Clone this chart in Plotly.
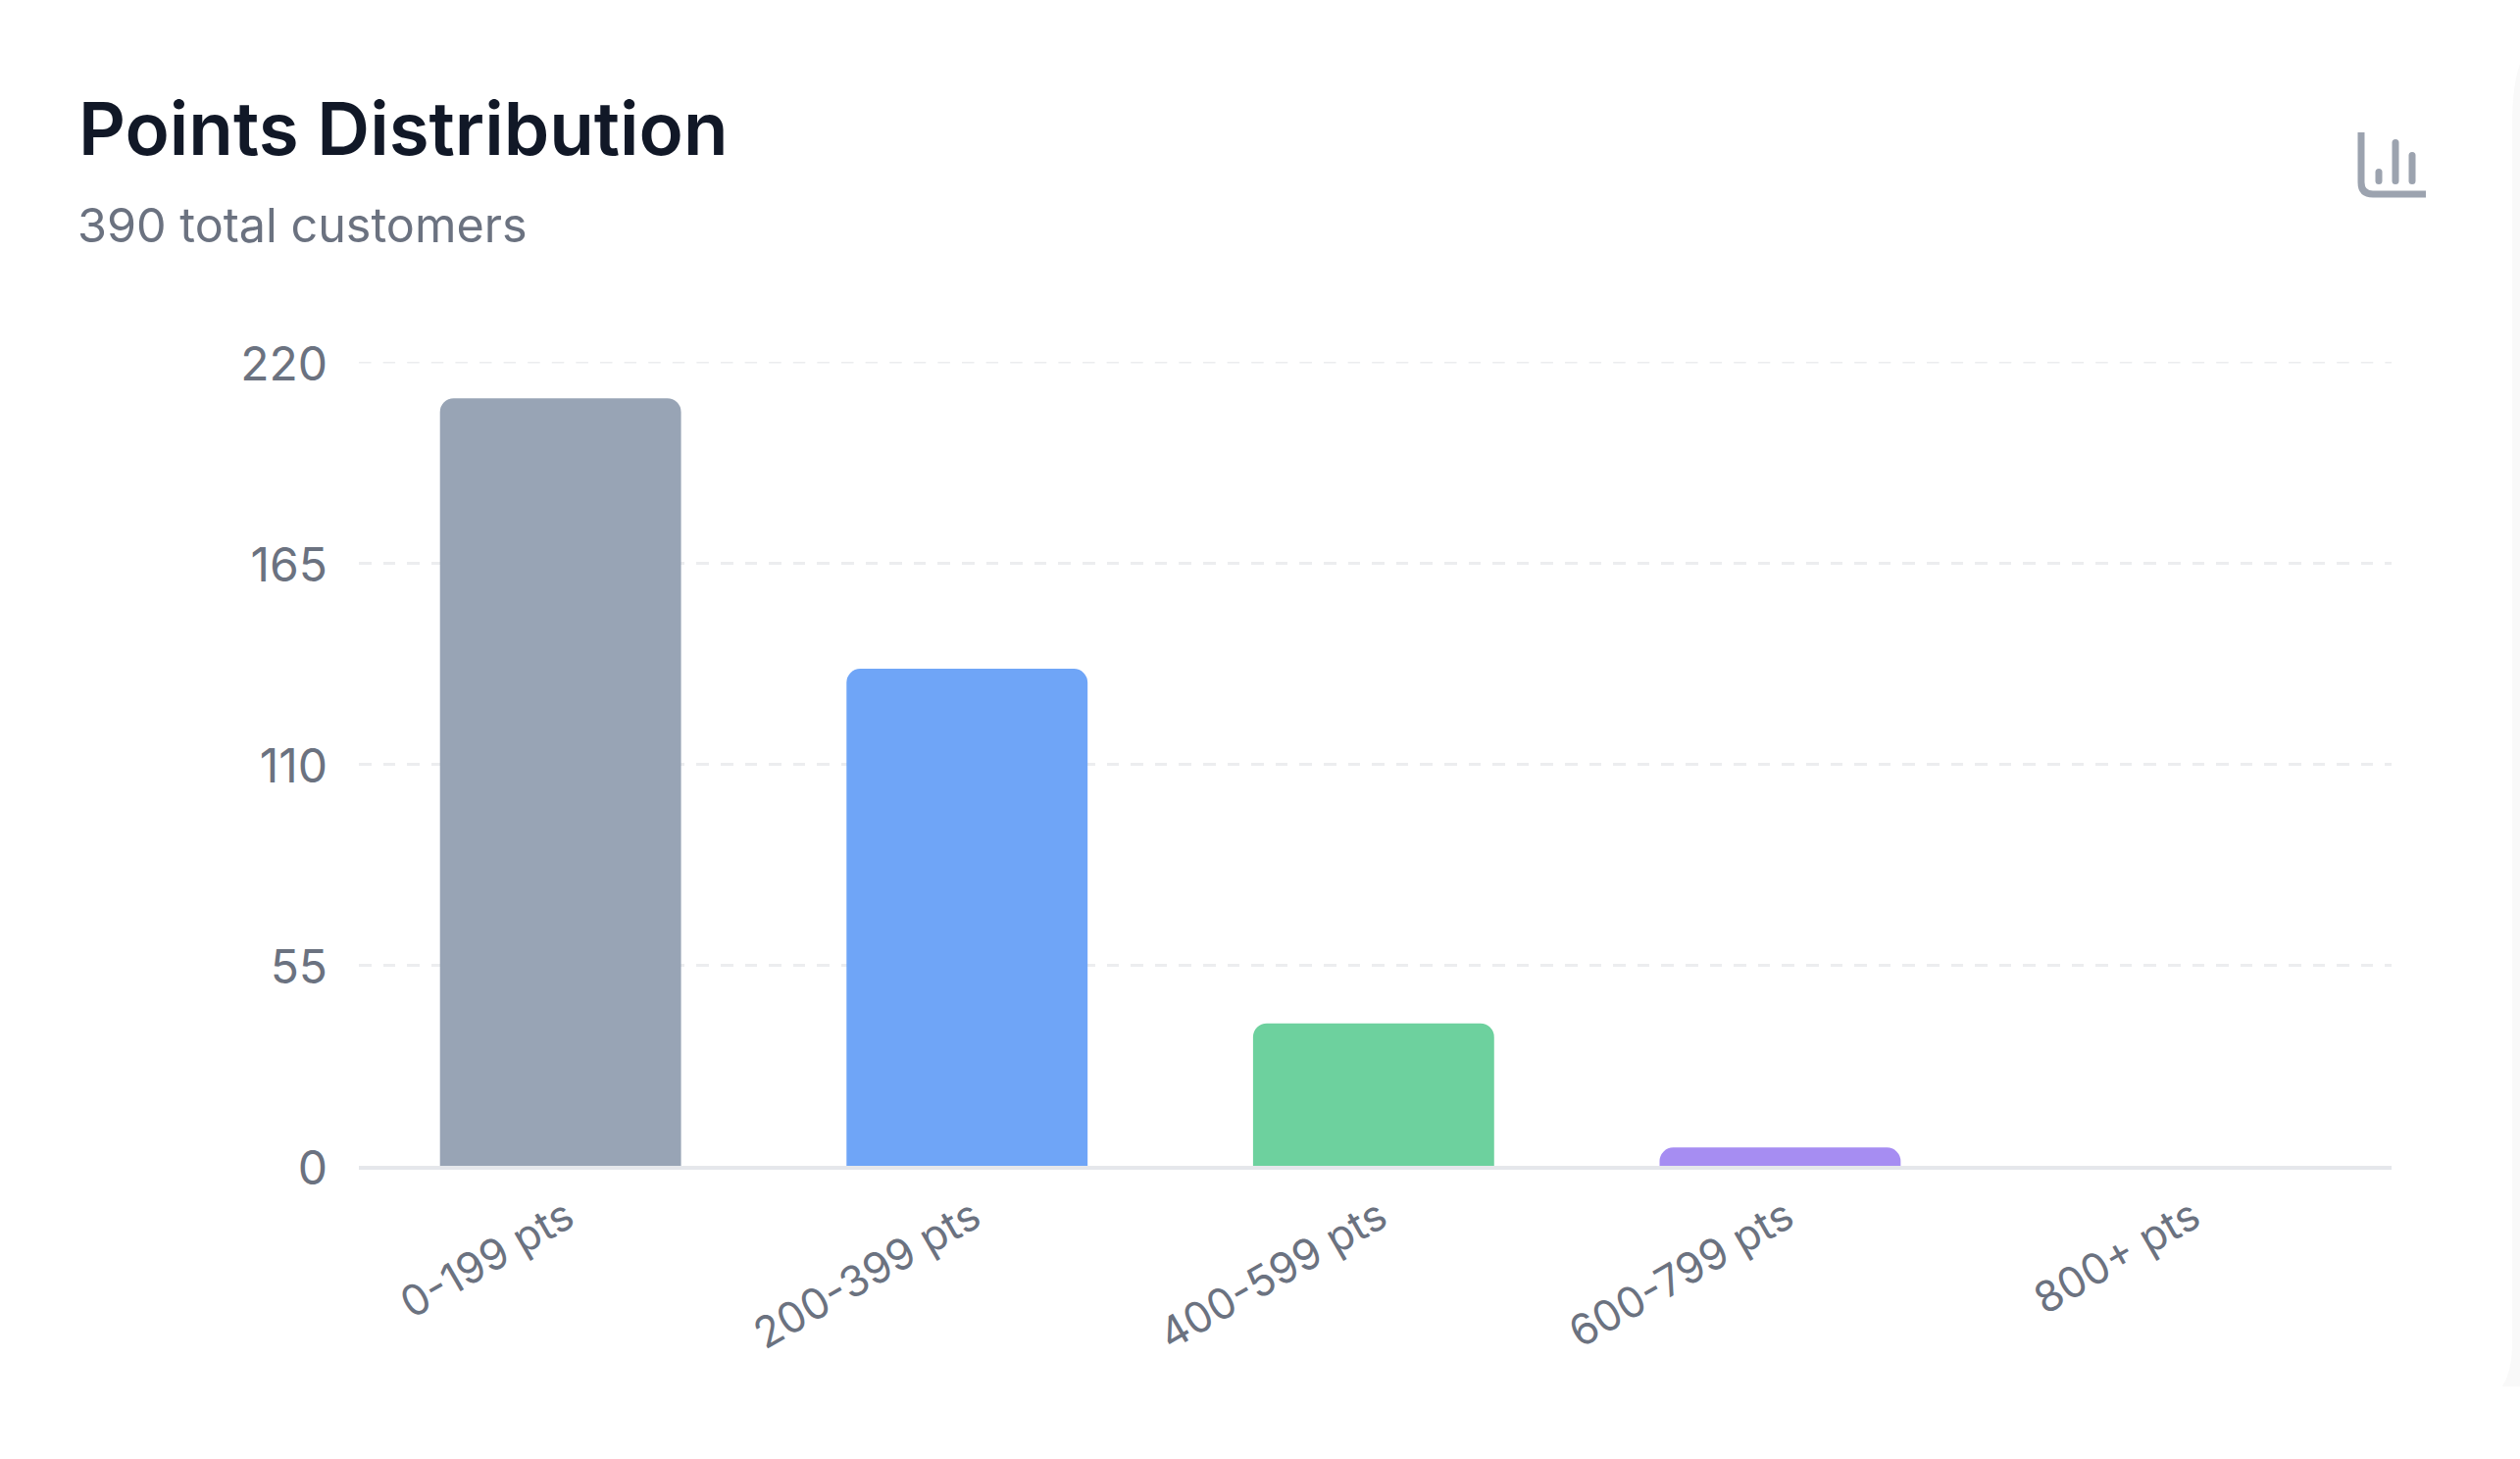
import plotly.graph_objects as go

W, H = 2570, 1488
ML, MR, MT, MB = 366, 131, 369, 299

categories = ["0-199 pts", "200-399 pts", "400-599 pts", "600-799 pts", "800+ pts"]
customers = [210, 136, 39, 5, 0]
bar_colors = ["#98A4B5", "#6FA5F7", "#6DD19E", "#A68DF2", "#F59E0B"]
y_ticks = [0, 55, 110, 165, 220]

FONT = "Inter, sans-serif"
MUTED = "#6B7280"
GRID = "#ECEDEF"
GRID_DASH = "12.5px,12.1px"


def px(x):
    return (x - ML) / (W - ML - MR)


def py(y):
    return (H - MB - y) / (H - MT - MB)


def capsule(x, y0, y1, r=3.5):
    # vertical stick with round ends, in page pixels
    return (
        f"M{px(x - r)},{py(y0 + r)} Q{px(x - r)},{py(y0)} {px(x)},{py(y0)} "
        f"Q{px(x + r)},{py(y0)} {px(x + r)},{py(y0 + r)} "
        f"L{px(x + r)},{py(y1 - r)} Q{px(x + r)},{py(y1)} {px(x)},{py(y1)} "
        f"Q{px(x - r)},{py(y1)} {px(x - r)},{py(y1 - r)} Z"
    )


fig = go.Figure()

fig.add_trace(go.Bar(
    x=categories,
    y=customers,
    marker=dict(color=bar_colors, cornerradius=14, line=dict(width=0)),
))

# plotly drops the gridline sitting on the range end, so draw the top one
fig.add_hline(y=y_ticks[-1], layer="below", line=dict(color=GRID, width=3, dash=GRID_DASH))

# small chart icon top right
icon = [capsule(2426, 172, 188), capsule(2443, 142, 188), capsule(2460, 155, 188)]
for p in icon:
    fig.add_shape(type="path", path=p, xref="paper", yref="paper",
                  fillcolor="#9CA3AF", line_width=0)
fig.add_shape(
    type="path",
    path=(f"M{px(2408)},{py(135)} L{px(2408)},{py(186)} "
          f"Q{px(2408)},{py(198)} {px(2420)},{py(198)} L{px(2474)},{py(198)}"),
    xref="paper", yref="paper", line=dict(color="#9CA3AF", width=7),
)

# faint edge of the card on the right
fig.add_shape(
    type="path",
    path=(f"M{px(2570)},{py(65)} Q{px(2563)},{py(85)} {px(2562)},{py(120)} "
          f"L{px(2562)},{py(1375)} Q{px(2561)},{py(1400)} {px(2552)},{py(1414)} "
          f"L{px(2570)},{py(1414)} Z"),
    xref="paper", yref="paper", fillcolor="#F9F9F9", line_width=0,
)

fig.add_annotation(
    text="Points Distribution", xref="paper", yref="paper",
    x=px(78), y=py(178), xanchor="left", yanchor="bottom", showarrow=False,
    font=dict(family=FONT, size=74.5, color="#111827", weight=600),
)
fig.add_annotation(
    text="390 total customers", xref="paper", yref="paper",
    x=px(77), y=py(261), xanchor="left", yanchor="bottom", showarrow=False,
    font=dict(family=FONT, size=48.5, color=MUTED),
)

fig.update_layout(
    width=W,
    height=H,
    margin=dict(l=ML, r=MR, t=MT, b=MB),
    paper_bgcolor="white",
    plot_bgcolor="white",
    showlegend=False,
    bargap=0.407,
    xaxis=dict(
        type="category",
        range=[-0.496, 4.504],
        tickangle=-30,
        showgrid=False,
        showline=True,
        linecolor="#E5E7EB",
        linewidth=4,
        ticks="",
        ticklabelshift=6,
        ticklabelstandoff=6,
        tickfont=dict(family=FONT, size=43.5, color=MUTED),
    ),
    yaxis=dict(
        range=[0, 220],
        tickvals=y_ticks,
        gridcolor=GRID,
        gridwidth=3,
        griddash=GRID_DASH,
        zeroline=False,
        showline=False,
        ticks="",
        ticklabelstandoff=31,
        ticklabelshift=2,
        tickfont=dict(family=FONT, size=48, color=MUTED),
    ),
)

fig.write_html(
    "out.html",
    config={"displayModeBar": False},
    post_script="document.body.style.margin = '0';",
)
